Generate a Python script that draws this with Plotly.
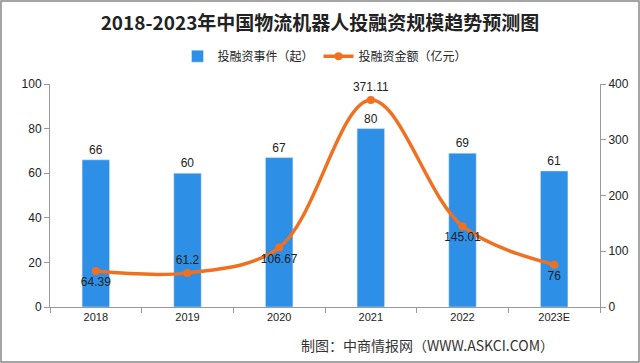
import plotly.graph_objects as go

years = ["2018", "2019", "2020", "2021", "2022", "2023E"]
events = [66, 60, 67, 80, 69, 61]
amount = [64.39, 61.2, 106.67, 371.11, 145.01, 76]
amount_labels = ["64.39", "61.2", "106.67", "371.11", "145.01", "76"]
amount_pos = ["bottom center", "top center", "bottom center", "top center", "bottom center", "bottom center"]

bar_color = "#2E8FE6"
line_color = "#F07022"
font_main = "Liberation Sans, Arial, sans-serif"
font_cjk = "Noto Sans CJK SC, sans-serif"

fig = go.Figure()
fig.add_trace(go.Bar(
    x=years, y=events, name="投融资事件（起）",
    marker_color=bar_color,
    text=[str(v) for v in events], textposition="outside",
    textfont=dict(size=12, color="#222", family=font_main),
    cliponaxis=False,
))
fig.add_trace(go.Scatter(
    x=years, y=amount, name="投融资金额（亿元）", yaxis="y2",
    mode="lines+markers+text",
    line=dict(color=line_color, width=3.5, shape="spline", smoothing=1.0),
    marker=dict(size=8, color=line_color),
    text=amount_labels, textposition=amount_pos,
    textfont=dict(size=12, color="#222", family=font_main),
    cliponaxis=False,
))

fig.update_layout(
    width=640, height=363,
    margin=dict(l=50, r=40, t=84, b=56),
    paper_bgcolor="white", plot_bgcolor="white",
    title=dict(text="<b>2018-2023年中国物流机器人投融资规模趋势预测图</b>",
               x=0.5, xanchor="center", y=0.935, yanchor="middle",
               font=dict(size=19, color="#222", family=font_cjk)),
    legend=dict(orientation="h", x=0.5, xanchor="center", y=1.125, yanchor="middle",
                font=dict(size=12, color="#222", family=font_cjk),
                bgcolor="rgba(0,0,0,0)"),
    bargap=0.7,
    showlegend=True,
    xaxis=dict(
        showline=True, linecolor="#999", linewidth=1,
        ticks="outside", tickcolor="#999", ticklen=5,
        tickson="boundaries",
        tickfont=dict(size=11, color="#222", family=font_main),
        showgrid=False,
    ),
    yaxis=dict(
        range=[0, 100], dtick=20, showgrid=False,
        showline=True, linecolor="#999", linewidth=1,
        ticks="outside", tickcolor="#999", ticklen=5,
        tickfont=dict(size=12, color="#222", family=font_main),
    ),
    yaxis2=dict(
        range=[0, 400], dtick=100, overlaying="y", side="right", showgrid=False,
        showline=True, linecolor="#999", linewidth=1,
        ticks="outside", tickcolor="#999", ticklen=5,
        tickfont=dict(size=12, color="#222", family=font_main),
    ),
    annotations=[dict(
        text="制图：中商情报网（WWW.ASKCI.COM）", xref="paper", yref="paper",
        x=0.92, y=-0.17, xanchor="right", yanchor="middle", showarrow=False,
        font=dict(size=14, color="#333", family=font_cjk),
    )],
    shapes=[dict(type="rect", xref="paper", yref="paper", x0=-0.0891, x1=1.0709, y0=-0.2466, y1=1.3722,
                 line=dict(color="#888", width=1.5))],
)

fig.write_html("out.html", config={"displayModeBar": False},
               post_script="document.body.style.margin='0px';")
